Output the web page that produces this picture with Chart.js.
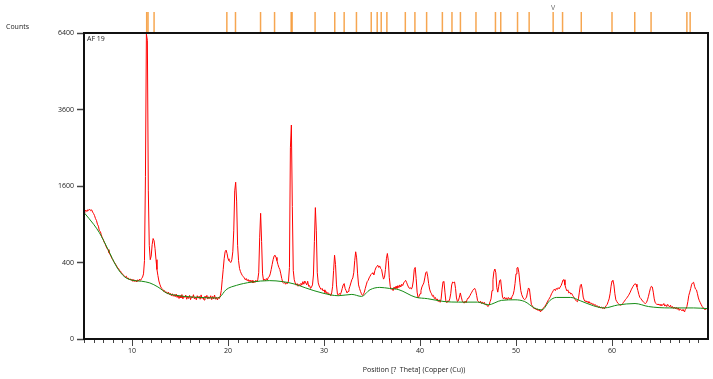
<!DOCTYPE html>
<html>
<head>
<meta charset="utf-8">
<script src="https://cdn.jsdelivr.net/npm/chart.js@4.4.1/dist/chart.umd.min.js"></script>
<style>
  html, body { margin: 0; padding: 0; background: #fff; }
  canvas { display: block; }
</style>
</head>
<body>
<canvas id="xrdChart" width="713" height="379"></canvas>
<script>
// Scan: start angle, step (deg 2Theta) and measured counts, one row per degree
const scanStart = 5;
const scanStep = 0.1;
const scanCounts = [
  1090, 1120, 1135, 1110, 1145, 1130, 1150, 1125, 1140, 1100,   // 5
  1075, 1040, 990, 960, 900, 870, 800, 790, 745, 700,            // 6
  680, 640, 620, 585, 560, 545, 510, 490, 470, 445,              // 7
  430, 410, 395, 380, 365, 345, 340, 320, 315, 300,              // 8
  290, 280, 270, 262, 270, 250, 255, 240, 248, 235,              // 9
  242, 228, 240, 225, 238, 222, 240, 230, 245, 235,              // 10
  250, 262, 290, 420, 1800, 6350, 6100, 1500, 600, 430,          // 11
  470, 610, 690, 660, 560, 430, 330, 275, 230, 205,              // 12
  185, 175, 168, 155, 160, 145, 152, 138, 150, 135,              // 13
  142, 128, 140, 125, 135, 122, 138, 118, 130, 112,              // 14
  128, 115, 135, 110, 126, 118, 132, 108, 124, 112,              // 15
  130, 106, 122, 115, 134, 110, 120, 105, 128, 114,              // 16
  125, 108, 133, 112, 120, 104, 126, 116, 130, 109,              // 17
  122, 112, 128, 106, 124, 110, 132, 108, 118, 104,              // 18
  120, 112, 128, 160, 240, 330, 440, 520, 540, 500,              // 19
  440, 420, 410, 400, 430, 520, 800, 1500, 1680, 1300,           // 20
  600, 420, 340, 310, 290, 275, 265, 255, 240, 250,              // 21
  232, 242, 225, 238, 220, 235, 215, 230, 218, 236,              // 22
  222, 240, 300, 700, 1080, 650, 290, 235, 245, 232,             // 23
  250, 238, 260, 265, 290, 330, 380, 430, 470, 480,              // 24
  455, 420, 380, 350, 330, 290, 250, 220, 212, 220,              // 25
  205, 215, 210, 230, 350, 2500, 3130, 1200, 320, 240,           // 26
  215, 198, 210, 190, 205, 195, 212, 200, 225, 205,              // 27
  230, 215, 200, 228, 190, 195, 175, 185, 200, 280,              // 28
  650, 1180, 800, 300, 215, 192, 178, 168, 175, 158,             // 29
  165, 148, 155, 140, 148, 132, 140, 128, 145, 190,              // 30
  320, 480, 380, 200, 138, 130, 142, 135, 150, 175,              // 31
  200, 210, 175, 160, 145, 155, 170, 190, 215, 240,              // 32
  255, 300, 420, 520, 450, 290, 200, 175, 155, 140,              // 33
  130, 135, 150, 175, 200, 225, 235, 255, 270, 285,              // 34
  295, 300, 280, 320, 345, 360, 372, 350, 365, 340,              // 35
  330, 280, 245, 260, 330, 440, 500, 420, 260, 190,              // 36
  168, 175, 160, 185, 170, 190, 175, 195, 180, 200,              // 37
  185, 205, 195, 215, 225, 235, 220, 200, 185, 175,              // 38
  180, 170, 185, 230, 330, 350, 250, 150, 115, 125,              // 39
  140, 160, 185, 200, 215, 255, 300, 310, 270, 210,              // 40
  170, 150, 140, 125, 130, 112, 118, 104, 110, 96,               // 41
  105, 92, 110, 170, 225, 220, 150, 95, 90, 100,                 // 42
  96, 110, 140, 200, 222, 218, 222, 175, 115, 96,                // 43
  100, 120, 145, 120, 100, 92, 88, 98, 90, 105,                  // 44
  115, 120, 128, 140, 150, 162, 170, 175, 160, 130,              // 45
  100, 96, 90, 98, 86, 94, 85, 92, 80, 84,                       // 46
  75, 72, 80, 95, 110, 160, 240, 310, 335, 300,                  // 47
  180, 150, 190, 235, 240, 170, 118, 110, 120, 108,              // 48
  116, 105, 118, 110, 115, 108, 125, 134, 160, 210,              // 49
  290, 345, 350, 300, 220, 160, 134, 120, 110, 105,              // 50
  112, 120, 150, 178, 170, 120, 82, 75, 68, 62,                  // 51
  66, 58, 62, 55, 60, 52, 58, 55, 64, 68,                        // 52
  72, 80, 88, 98, 106, 115, 125, 140, 150, 162,                  // 53
  170, 160, 175, 168, 180, 172, 185, 195, 215, 238,              // 54
  240, 200, 175, 158, 165, 145, 150, 138, 142, 130,              // 55
  122, 112, 104, 98, 95, 110, 150, 195, 205, 170,                // 56
  120, 104, 96, 100, 92, 96, 88, 92, 85, 88,                     // 57
  80, 84, 76, 80, 72, 75, 68, 72, 66, 70,                        // 58
  64, 68, 62, 70, 76, 82, 95, 110, 140, 190,                     // 59
  230, 235, 200, 140, 105, 96, 88, 84, 80, 78,                   // 60
  80, 85, 92, 98, 106, 112, 120, 128, 138, 150,                  // 61
  165, 178, 190, 202, 208, 205, 185, 160, 135, 118,              // 62
  112, 104, 98, 92, 88, 86, 92, 105, 125, 150,                   // 63
  175, 190, 185, 150, 110, 90, 86, 80, 84, 78,                   // 64
  82, 76, 80, 78, 86, 74, 80, 72, 82, 76,                        // 65
  70, 78, 66, 72, 64, 70, 62, 68, 60, 66,                        // 66
  56, 62, 58, 54, 60, 52, 58, 62, 72, 95,                        // 67
  130, 150, 175, 205, 215, 220, 190, 170, 165, 140,              // 68
  115, 100, 90, 80, 72, 66, 62, 58, 64, 60,                      // 69
  62                                                             // 70
];

// Fitted background (green)
const bgTheta = [5, 6, 6.6, 7.5, 8.4, 9.2, 10.1, 11, 11.85, 12.7,
  13.6, 14.6, 16.4, 18.8, 19.15, 19.8, 20.9, 21.6, 22.5, 24.3,
  25.7, 27, 28.1, 29.8, 31.5, 32.9, 33.9, 34.8, 35.8, 36.8,
  37.8, 39.5, 40.8, 42.5, 44, 46, 47.1, 48.5, 49.9, 50.9,
  51.96, 52.7, 53.5, 54.2, 55.7, 56.7, 58.1, 59.2, 60.6, 62.4,
  63.8, 66, 68.5, 70];
const bgCounts = [1093, 900, 773, 549, 356, 266, 235, 228, 215, 185,
  145, 130, 120, 115, 120, 166, 197, 210, 222, 233,
  225, 205, 178, 145, 128, 136, 124, 166, 182, 175,
  166, 120, 111, 96, 93, 93, 80, 102, 105, 96,
  65, 58, 100, 118, 118, 100, 75, 66, 79, 86,
  72, 66, 66, 63];

// Reference pattern stick positions (top strip)
const refPeaks = [11.53, 11.67, 12.30, 19.88, 20.78, 23.39, 24.85, 26.58, 26.68, 29.07,
  31.12, 32.10, 33.38, 34.92, 35.54, 35.96, 36.55, 38.47, 39.47, 40.69,
  42.33, 43.33, 44.21, 45.83, 47.86, 48.41, 50.16, 51.37, 53.87, 54.85,
  56.80, 60.00, 62.37, 64.07, 67.80, 68.14];
const markerTheta = 53.87;

const xMajorTicks = [10, 20, 30, 40, 50, 60];
const yTickCounts = [0, 400, 1600, 3600, 6400];

const fontFamily = '"Open Sans", "Noto Sans", sans-serif';

// sqrt intensity axis: plot sqrt(counts) on a linear scale
const scanData = scanCounts.map((c, i) => ({ x: +(scanStart + i * scanStep).toFixed(2), y: Math.sqrt(c) }));
const bgData = bgTheta.map((t, i) => ({ x: t, y: Math.sqrt(bgCounts[i]) }));

const overlay = {
    id: 'overlay',
    afterDatasetsDraw(chart) {
        const { ctx, chartArea: a, scales: { x } } = chart;
        ctx.save();

        // cadre
        ctx.strokeStyle = '#111';
        ctx.lineWidth = 2;
        ctx.strokeRect(a.left, a.top, a.right - a.left, a.bottom - a.top);

        // petites graduations
        ctx.strokeStyle = '#444';
        ctx.lineWidth = 1;
        for (let t = 5; t <= 70; t++) {
            if (t % 10 === 0) continue;
            const px = Math.round(x.getPixelForValue(t)) + 0.5;
            ctx.beginPath();
            ctx.moveTo(px, a.bottom + 1);
            ctx.lineTo(px, a.bottom + 4);
            ctx.stroke();
        }

        // raies de référence
        ctx.strokeStyle = 'rgba(245, 150, 50, 0.85)';
        ctx.lineWidth = 1.5;
        refPeaks.forEach(t => {
            const px = x.getPixelForValue(t);
            ctx.beginPath();
            ctx.moveTo(px, 12);
            ctx.lineTo(px, a.top - 1);
            ctx.stroke();
        });

        ctx.fillStyle = '#666';
        ctx.font = '7px ' + fontFamily;
        ctx.textAlign = 'center';
        ctx.textBaseline = 'middle';
        ctx.fillText('V', x.getPixelForValue(markerTheta), 8);

        // textes
        ctx.fillStyle = '#222';
        ctx.textAlign = 'left';
        ctx.fillText('Counts', 6, 27);
        ctx.fillText('AF 19', a.left + 3, a.top + 6);
        ctx.textAlign = 'center';
        ctx.fillText('Position [?  Theta] (Copper (Cu))', 414, 370);
        ctx.restore();
    }
};

new Chart(document.getElementById('xrdChart'), {
    type: 'line',
    data: {
        datasets: [
            {
                label: 'Background',
                data: bgData,
                borderColor: 'rgb(20, 140, 20)',
                borderWidth: 1,
                pointRadius: 0,
                cubicInterpolationMode: 'monotone'
            },
            {
                label: 'AF 19',
                data: scanData,
                borderColor: 'rgb(255, 0, 0)',
                borderWidth: 1,
                pointRadius: 0,
                tension: 0
            }
        ]
    },
    options: {
        responsive: false,
        devicePixelRatio: 1,
        animation: false,
        layout: { padding: { top: 33, right: 5, left: 0, bottom: 0 } },
        plugins: { legend: { display: false }, tooltip: { enabled: false } },
        scales: {
            x: {
                type: 'linear',
                min: 5,
                max: 70,
                afterBuildTicks: s => { s.ticks = xMajorTicks.map(v => ({ value: v })); },
                afterFit: s => { s.height = 40; },
                grid: { drawOnChartArea: false, tickLength: 7, tickColor: '#444', tickWidth: 1 },
                border: { display: false },
                ticks: { font: { family: fontFamily, size: 7 }, color: '#222', padding: 1, maxRotation: 0 }
            },
            y: {
                min: 0,
                max: 80,
                afterBuildTicks: s => { s.ticks = yTickCounts.map(v => ({ value: Math.sqrt(v) })); },
                afterFit: s => { s.width = 84; },
                grid: { drawOnChartArea: false, tickLength: 7, tickColor: '#444', tickWidth: 1.5 },
                border: { display: false },
                ticks: {
                    font: { family: fontFamily, size: 7 },
                    color: '#222',
                    padding: 3,
                    callback: v => Math.round(v * v)
                }
            }
        }
    },
    plugins: [overlay]
});
</script>
</body>
</html>
